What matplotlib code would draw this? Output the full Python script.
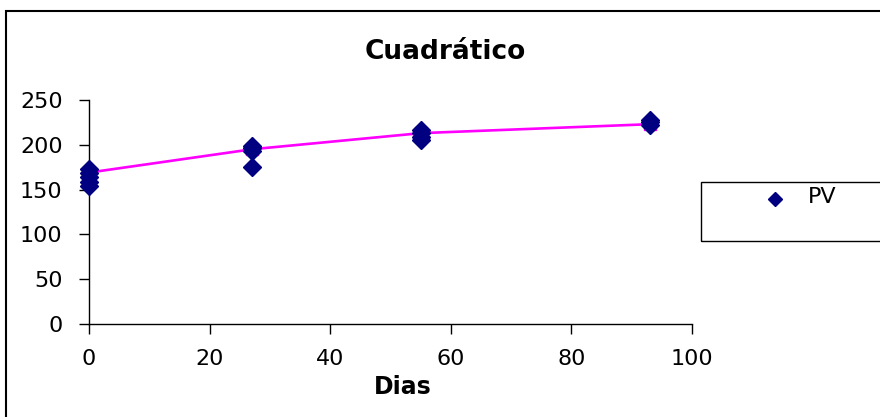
import numpy as np
import matplotlib.pyplot as plt
from matplotlib.patches import Rectangle
from matplotlib.lines import Line2D

# datos observados (PV) por dia
dias_0 = [0, 0, 0, 0, 0]
pv_0 = [173, 168, 164, 159, 154]
dias_27 = [27, 27, 27, 27]
pv_27 = [199, 196, 193, 175]
dias_55 = [55, 55, 55, 55]
pv_55 = [217, 213, 209, 205]
dias_93 = [93, 93, 93]
pv_93 = [228, 225, 222]

# valores estimados (linea cuadratica)
dias_est = [0, 27, 55, 93]
pv_est = [169, 195, 213, 223]

x_ticks = [0, 20, 40, 60, 80, 100]
y_ticks = [0, 50, 100, 150, 200, 250]

dias = dias_0 + dias_27 + dias_55 + dias_93
pv = pv_0 + pv_27 + pv_55 + pv_93

plt.rcParams['font.family'] = ['DejaVu Sans']

fig = plt.figure(figsize=(8.8, 4.17), dpi=100)
ax = fig.add_axes([89 / 880, 93 / 417, 603 / 880, 224 / 417])

ax.plot(dias_est, pv_est, '-', color='#ff00ff', linewidth=1.9, zorder=2)
ax.plot(dias_est, pv_est, 's', color='#ff00ff', markersize=8, zorder=2)
ax.plot(dias, pv, 'D', color='#000080', markersize=9, linestyle='none',
        zorder=3, clip_on=False)

ax.set_xlim(0, 100)
ax.set_ylim(0, 250)
ax.set_xticks(x_ticks)
ax.set_yticks(y_ticks)
ax.spines['top'].set_visible(False)
ax.spines['right'].set_visible(False)
for s in ['left', 'bottom']:
    ax.spines[s].set_linewidth(1.0)
ax.tick_params(axis='y', direction='out', length=7, width=1.0, pad=12, labelsize=16)
ax.tick_params(axis='x', direction='out', length=7, width=1.0, pad=11, labelsize=16)

fig.text(445 / 880, 1 - 52 / 417, 'Cuadrático', ha='center', va='center',
         fontsize=19, fontweight='bold')
fig.text(403 / 880, 1 - 387 / 417, 'Dias', ha='center', va='center',
         fontsize=17, fontweight='bold')

# marco de la figura
fig.add_artist(Rectangle((6 / 880, -0.1), 2, 1 - 11 / 417 + 0.1,
                         transform=fig.transFigure, fill=False,
                         edgecolor='black', linewidth=1.5))

# leyenda
fig.add_artist(Rectangle((701 / 880, 1 - 241 / 417), 0.5, 59 / 417,
                         transform=fig.transFigure, fill=False,
                         edgecolor='black', linewidth=1.0))
fig.add_artist(Line2D([775 / 880], [1 - 199 / 417], marker='D',
                      color='#000080', markersize=7,
                      transform=fig.transFigure))
fig.text(808 / 880, 1 - 197 / 417, 'PV', ha='left', va='center', fontsize=16)

plt.savefig('out.png', dpi=100)
